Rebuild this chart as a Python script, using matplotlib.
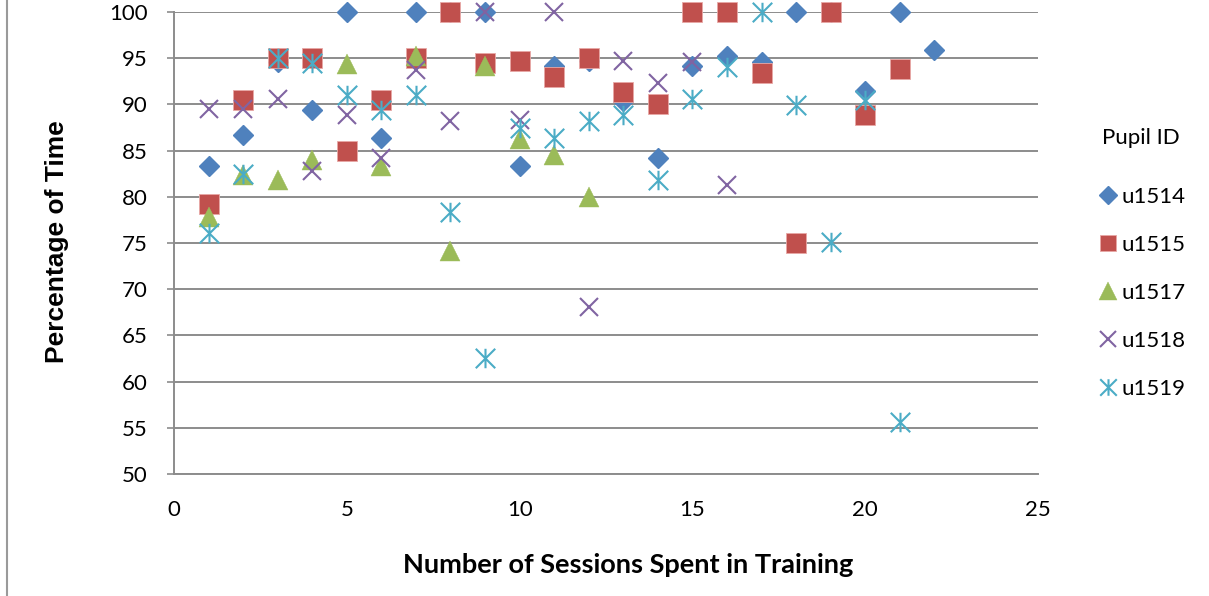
import matplotlib.pyplot as plt
from matplotlib.path import Path
from matplotlib.lines import Line2D

# sessions and percentage of time per pupil
sessions_1514 = list(range(1, 23))
pct_1514 = [83.3, 86.7, 94.6, 89.4, 100, 86.4, 100, 100, 100, 83.3, 94.1,
            94.7, 90.4, 84.2, 94.1, 95.2, 94.6, 100, 100, 91.4, 100, 95.9]

sessions_1515 = list(range(1, 22))
pct_1515 = [79.2, 90.5, 95.0, 95.0, 85.0, 90.5, 95.0, 100, 94.5, 94.7, 93.0,
            95.0, 91.3, 90.0, 100, 100, 93.4, 75.0, 100, 88.9, 93.8]

sessions_1517 = list(range(1, 13))
pct_1517 = [77.8, 82.4, 81.8, 84.0, 94.4, 83.3, 95.2, 74.1, 94.1, 86.2,
            84.5, 80.0]

sessions_1518 = list(range(1, 17))
pct_1518 = [89.5, 89.5, 90.6, 82.8, 88.9, 84.2, 93.7, 88.2, 100, 88.3, 100,
            68.1, 94.7, 92.3, 94.6, 81.3]

sessions_1519 = list(range(1, 22))
pct_1519 = [76.1, 82.5, 95.0, 94.5, 91.0, 89.4, 91.0, 78.3, 62.6, 87.4, 86.4,
            88.2, 88.9, 81.8, 90.6, 94.0, 100, 89.9, 75.1, 90.5, 55.6]

pupil_ids = ["u1514", "u1515", "u1517", "u1518", "u1519"]

# asterisk: vertical bar plus a cross
star = Path([(0, -1), (0, 1), (-1, -1), (1, 1), (-1, 1), (1, -1)],
            [Path.MOVETO, Path.LINETO, Path.MOVETO, Path.LINETO,
             Path.MOVETO, Path.LINETO])

styles = [
    dict(marker="D", color="#4F81BD", ms=10.2, mec="#4F81BD"),
    dict(marker="s", color="#C0504D", ms=14.2, mec="#E8A8A6", mew=0.6),
    dict(marker="^", color="#9BBB59", ms=14.5, mec="#9BBB59", mew=0.3),
    dict(marker="x", color="#8064A2", ms=13.5, mew=1.5),
    dict(marker=star, color="#4BACC6", ms=14, mew=1.5),
]

plt.rcParams["font.family"] = ["Lato", "DejaVu Sans"]

fig = plt.figure(figsize=(12.09, 5.96), dpi=100)
ax = fig.add_axes([0.1439, 0.2047, 0.8586 - 0.1439, 0.9799 - 0.2047])

series = [(sessions_1514, pct_1514), (sessions_1515, pct_1515),
          (sessions_1517, pct_1517), (sessions_1518, pct_1518),
          (sessions_1519, pct_1519)]
for (xs, ys), name, st in zip(series, pupil_ids, styles):
    ax.plot(xs, ys, linestyle="none", label=name, clip_on=False, **st)

ax.set_xlim(0, 25)
ax.set_ylim(50, 100)
ax.set_xticks(range(0, 26, 5))
ax.set_yticks(range(50, 101, 5))
ax.grid(axis="y", color="#8C8C8C", linewidth=1.4, zorder=0)
ax.set_axisbelow(True)
for side in ["top", "right"]:
    ax.spines[side].set_visible(False)
ax.spines["left"].set_color("#8C8C8C")
ax.spines["left"].set_linewidth(1.4)
ax.spines["bottom"].set_color("#8C8C8C")
ax.spines["bottom"].set_linewidth(1.4)
ax.tick_params(axis="y", length=5, width=1.2, color="#8C8C8C",
               labelsize=16, pad=14)
ax.tick_params(axis="x", length=0, labelsize=16, pad=19)

ax.set_xlabel("Number of Sessions Spent in Training", fontsize=19.5,
              fontweight="bold", va="center")
ax.xaxis.set_label_coords(0.5255, -0.197)
ax.set_ylabel("Percentage of Time", fontsize=19, fontweight="bold",
              va="center", family=["Liberation Sans", "DejaVu Sans"])
ax.yaxis.set_label_coords(-0.1354, 0.502)

leg = ax.legend(title="Pupil ID", loc="upper left",
                bbox_to_anchor=(1.045, 0.792), frameon=False, fontsize=16,
                title_fontsize=16, handletextpad=0.1, handlelength=1.0,
                labelspacing=1.26, numpoints=1)
leg._legend_box.sep = 28
for h in leg.legend_handles:
    h.set_markersize(h.get_markersize() * 0.85)

# outer chart border on the left edge
fig.add_artist(Line2D([7 / 1209, 7 / 1209], [0, 1], color="#9A9A9A",
                      linewidth=1.5))

fig.savefig("out.png", dpi=100)
